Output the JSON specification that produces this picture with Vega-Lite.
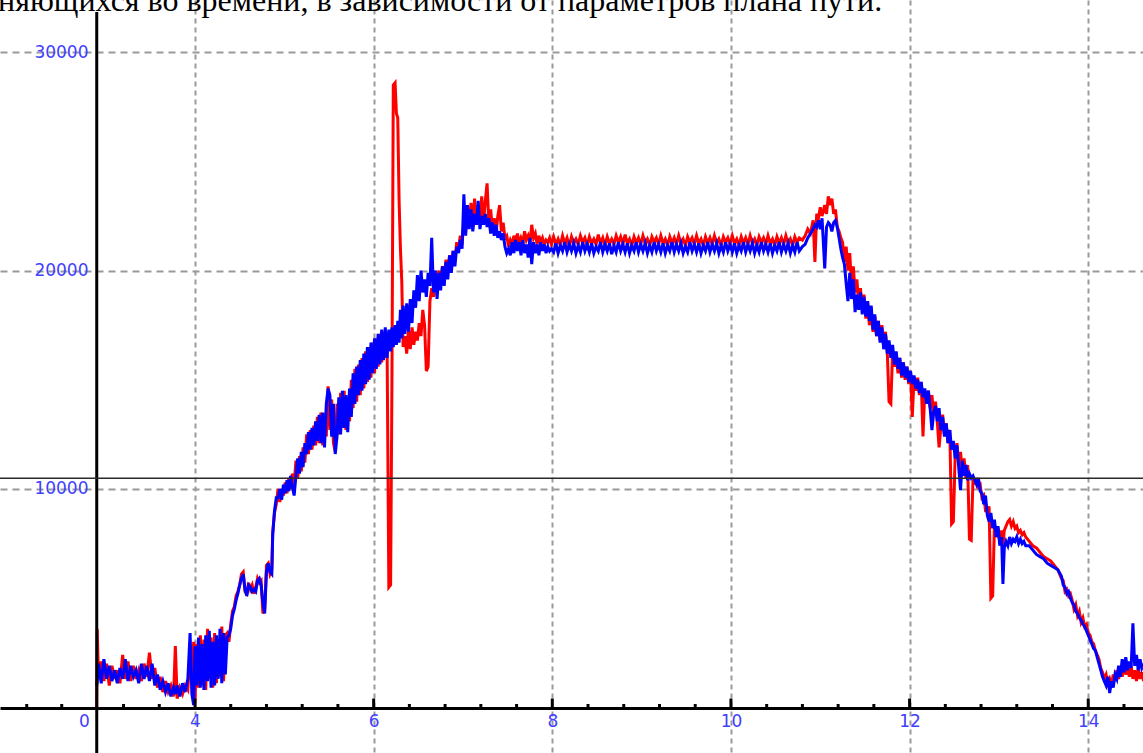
{
  "$schema": "https://vega.github.io/schema/vega-lite/v6.json",
  "width": 1143,
  "height": 753,
  "padding": 0,
  "autosize": {"type": "none"},
  "background": "white",
  "config": {"view": {"stroke": null}},
  "datasets": {
    "curves": [
      {"x":2.900,"r":0,"b":1000},{"x":2.905,"r":3600,"b":1200},{"x":2.92,"r":1300,"b":2000},{"x":2.95,"r":2100,"b":1100},{"x":2.98,"r":1200,"b":2200},{"x":3.01,"r":2000,"b":1300},{"x":3.04,"r":1000,"b":1900},{"x":3.07,"r":1900,"b":1200},{"x":3.10,"r":1300,"b":1700},{"x":3.13,"r":1700,"b":1100},{"x":3.16,"r":1100,"b":1800},{"x":3.19,"r":2400,"b":1300},{"x":3.22,"r":1300,"b":2200},{"x":3.25,"r":2100,"b":1200},{"x":3.28,"r":1200,"b":1900},{"x":3.31,"r":1900,"b":1400},{"x":3.34,"r":1300,"b":1700},{"x":3.37,"r":1700,"b":1100},{"x":3.40,"r":1200,"b":2000},{"x":3.43,"r":2000,"b":1300},{"x":3.46,"r":1400,"b":1900},{"x":3.49,"r":2500,"b":1200},{"x":3.52,"r":1300,"b":2000},{"x":3.55,"r":1800,"b":1000},{"x":3.58,"r":900,"b":1500},{"x":3.61,"r":1400,"b":800},{"x":3.64,"r":700,"b":1200},{"x":3.67,"r":1200,"b":700},{"x":3.70,"r":700,"b":1100},{"x":3.73,"r":1000,"b":500},{"x":3.76,"r":500,"b":900},{"x":3.78,"r":2800,"b":600},{"x":3.80,"r":400,"b":1000},{"x":3.83,"r":900,"b":500},{"x":3.86,"r":600,"b":1100},{"x":3.89,"r":1000,"b":700},{"x":3.92,"r":800,"b":1300},{"x":3.945,"r":2500,"b":3400},{"x":3.965,"r":1200,"b":600},{"x":3.985,"r":3000,"b":100},{"x":4.00,"r":200,"b":2800},
      {"x":4.02,"r":2900,"b":1000},{"x":4.04,"r":900,"b":3200},{"x":4.06,"r":3300,"b":900},{"x":4.08,"r":1000,"b":2900},{"x":4.10,"r":3100,"b":800},{"x":4.12,"r":800,"b":3300},{"x":4.14,"r":3600,"b":1200},{"x":4.16,"r":1300,"b":3500},{"x":4.18,"r":3200,"b":900},{"x":4.20,"r":900,"b":3000},{"x":4.22,"r":3400,"b":1000},{"x":4.24,"r":1100,"b":3300},{"x":4.26,"r":3000,"b":1300},{"x":4.28,"r":1400,"b":3600},{"x":4.30,"r":3700,"b":1100},{"x":4.32,"r":1200,"b":3400},{"x":4.34,"r":3300,"b":1500},{"x":4.36,"r":3400,"b":3200},
      {"x":4.38,"r":3000,"b":3300},{"x":4.40,"r":3800,"b":3600},{"x":4.42,"r":4400,"b":4200},{"x":4.44,"r":4600,"b":4500},{"x":4.46,"r":5100,"b":4900},{"x":4.48,"r":5300,"b":5200},{"x":4.50,"r":5600,"b":5600},{"x":4.52,"r":6100,"b":5900},{"x":4.54,"r":6200,"b":6100},{"x":4.56,"r":5300,"b":5400},{"x":4.58,"r":5200,"b":5100},{"x":4.60,"r":5700,"b":5600},{"x":4.62,"r":5400,"b":5500},{"x":4.64,"r":5600,"b":5300},{"x":4.66,"r":5200,"b":5400},{"x":4.68,"r":5500,"b":5300},{"x":4.70,"r":5900,"b":5800},{"x":4.72,"r":5700,"b":5900},{"x":4.74,"r":5800,"b":5600},{"x":4.76,"r":4300,"b":4800},{"x":4.78,"r":4500,"b":4300},{"x":4.80,"r":6500,"b":6200},{"x":4.82,"r":6600,"b":6600},{"x":4.84,"r":6100,"b":6200},{"x":4.86,"r":6300,"b":6100},
      {"x":4.87,"r":8000,"b":7900},{"x":4.89,"r":8900,"b":9000},{"x":4.91,"r":9300,"b":9600},{"x":4.93,"r":10000,"b":9600},{"x":4.95,"r":9400,"b":10000},{"x":4.97,"r":10000,"b":9500},{"x":4.99,"r":9700,"b":10200},{"x":5.01,"r":10300,"b":9800},{"x":5.03,"r":9800,"b":10400},{"x":5.05,"r":10500,"b":9900},{"x":5.07,"r":10000,"b":10600},{"x":5.09,"r":10700,"b":10100},{"x":5.11,"r":10200,"b":9700},{"x":5.13,"r":11300,"b":10600},{"x":5.15,"r":10500,"b":11400},{"x":5.17,"r":11500,"b":10700},{"x":5.19,"r":10800,"b":11700},{"x":5.21,"r":11900,"b":11000},{"x":5.23,"r":11200,"b":12100},{"x":5.25,"r":12500,"b":11600},{"x":5.27,"r":11600,"b":12600},{"x":5.29,"r":12700,"b":11800},{"x":5.31,"r":11800,"b":12800},{"x":5.33,"r":12900,"b":12000},{"x":5.35,"r":12000,"b":13100},{"x":5.37,"r":13300,"b":12200},{"x":5.39,"r":12100,"b":13400},{"x":5.41,"r":13500,"b":12100},{"x":5.43,"r":12000,"b":13500},{"x":5.45,"r":13400,"b":11900},{"x":5.47,"r":12400,"b":13900},{"x":5.49,"r":14700,"b":14600},{"x":5.51,"r":12700,"b":14300},{"x":5.53,"r":14100,"b":12400},{"x":5.55,"r":12100,"b":13900},{"x":5.57,"r":11700,"b":11600},{"x":5.59,"r":13900,"b":12400},{"x":5.61,"r":12500,"b":14200},{"x":5.63,"r":14400,"b":12500},{"x":5.65,"r":12800,"b":14500},{"x":5.67,"r":14500,"b":12800},{"x":5.69,"r":12700,"b":14300},{"x":5.71,"r":14200,"b":12600},{"x":5.73,"r":13100,"b":14600},{"x":5.75,"r":15000,"b":13300},{"x":5.77,"r":13700,"b":15300},{"x":5.79,"r":15500,"b":13900},{"x":5.81,"r":14000,"b":15600},{"x":5.83,"r":15700,"b":14300},{"x":5.85,"r":14300,"b":15900},{"x":5.87,"r":16000,"b":14500},{"x":5.89,"r":14600,"b":16200},{"x":5.91,"r":16300,"b":14800},{"x":5.93,"r":14900,"b":16500},{"x":5.95,"r":16500,"b":15000},{"x":5.97,"r":15100,"b":16700},{"x":5.99,"r":16700,"b":15300},{"x":6.01,"r":15300,"b":16900},{"x":6.03,"r":16900,"b":15500},{"x":6.05,"r":15600,"b":17100},{"x":6.07,"r":17100,"b":15700},{"x":6.09,"r":15800,"b":17300},{"x":6.11,"r":17200,"b":15900},{"x":6.13,"r":16000,"b":17400},{"x":6.15,"r":16900,"b":16000},
      {"x":6.17,"r":5500,"b":17300},{"x":6.19,"r":5600,"b":16300},{"x":6.205,"r":15000,"b":17400},{"x":6.22,"r":28500,"b":16500},{"x":6.24,"r":28600,"b":17500},{"x":6.255,"r":27200,"b":16600},{"x":6.27,"r":27000,"b":17700},{"x":6.285,"r":23200,"b":16700},{"x":6.30,"r":21000,"b":18200},{"x":6.315,"r":19500,"b":16900},{"x":6.33,"r":16500,"b":18400},{"x":6.35,"r":17000,"b":17100},
      {"x":6.37,"r":16200,"b":18500},{"x":6.39,"r":17300,"b":17200},{"x":6.41,"r":16400,"b":18700},{"x":6.43,"r":17400,"b":17600},{"x":6.45,"r":16600,"b":19100},{"x":6.47,"r":17200,"b":18300},{"x":6.49,"r":16800,"b":19800},{"x":6.51,"r":17600,"b":18600},{"x":6.53,"r":17000,"b":20000},{"x":6.55,"r":18200,"b":19000},{"x":6.57,"r":17500,"b":19600},{"x":6.59,"r":15400,"b":18800},{"x":6.61,"r":15600,"b":19900},{"x":6.63,"r":18600,"b":19300},{"x":6.65,"r":19200,"b":21500},{"x":6.67,"r":18800,"b":19000},{"x":6.69,"r":19600,"b":20000},{"x":6.71,"r":19100,"b":18700},{"x":6.73,"r":20000,"b":19900},{"x":6.75,"r":19400,"b":19100},{"x":6.77,"r":20200,"b":20200},{"x":6.79,"r":19700,"b":19300},{"x":6.81,"r":20500,"b":20400},{"x":6.83,"r":19900,"b":19600},{"x":6.85,"r":20700,"b":20700},{"x":6.87,"r":20300,"b":19900},{"x":6.89,"r":20900,"b":20900},{"x":6.91,"r":20500,"b":20200},{"x":6.93,"r":21300,"b":21100},{"x":6.95,"r":21000,"b":20800},{"x":6.97,"r":21600,"b":21400},{"x":6.99,"r":21200,"b":21000},{"x":7.01,"r":22300,"b":23500},{"x":7.03,"r":21800,"b":21600},{"x":7.05,"r":22900,"b":23000},{"x":7.07,"r":22200,"b":21900},{"x":7.09,"r":23100,"b":22800},{"x":7.11,"r":22000,"b":21800},{"x":7.13,"r":23300,"b":22600},{"x":7.15,"r":22100,"b":22100},{"x":7.17,"r":23000,"b":23200},{"x":7.19,"r":22300,"b":21900},{"x":7.21,"r":23400,"b":22500},{"x":7.23,"r":22200,"b":22100},{"x":7.25,"r":23200,"b":22600},{"x":7.27,"r":24000,"b":22000},{"x":7.29,"r":22100,"b":22400},{"x":7.31,"r":22800,"b":21700},{"x":7.33,"r":21900,"b":22200},{"x":7.35,"r":22400,"b":21600},{"x":7.37,"r":21700,"b":22100},{"x":7.39,"r":22500,"b":21500},{"x":7.41,"r":23000,"b":21800},{"x":7.43,"r":21800,"b":21400},{"x":7.45,"r":22200,"b":21700},{"x":7.47,"r":21500,"b":21100},{"x":7.49,"r":21600,"b":20800},{"x":7.51,"r":21100,"b":21000},{"x":7.53,"r":21400,"b":20700},{"x":7.55,"r":21200,"b":21300},{"x":7.57,"r":21600,"b":20800},{"x":7.59,"r":21300,"b":21400},{"x":7.61,"r":21700,"b":20900},{"x":7.63,"r":21200,"b":21300},{"x":7.65,"r":21500,"b":20700},{"x":7.67,"r":21300,"b":21400},{"x":7.69,"r":21800,"b":20800},{"x":7.71,"r":21400,"b":21200},{"x":7.73,"r":21600,"b":20600},{"x":7.75,"r":21300,"b":21500},{"x":7.77,"r":22100,"b":20300},{"x":7.79,"r":21500,"b":21300},{"x":7.81,"r":21700,"b":20800},{"x":7.83,"r":21200,"b":21200},{"x":7.85,"r":21600,"b":20700},{"x":7.87,"r":21300,"b":21300},{"x":7.89,"r":21500,"b":20900},{"x":7.91,"r":21200,"b":21200},{"x":7.93,"r":21400,"b":20800},{"x":7.95,"r":21300,"b":21100},{"x":7.97,"r":21500,"b":20900},{"x":7.99,"r":21200,"b":21000},
      {"x":8.015,"r":21550,"b":20850},{"x":8.04,"r":21200,"b":21250},{"x":8.065,"r":21450,"b":20800},{"x":8.09,"r":21150,"b":21150},{"x":8.115,"r":21600,"b":20900},{"x":8.14,"r":21250,"b":21300},{"x":8.165,"r":21500,"b":20850},{"x":8.19,"r":21100,"b":21200},{"x":8.215,"r":21550,"b":20900},{"x":8.24,"r":21250,"b":21250},{"x":8.265,"r":21450,"b":20800},{"x":8.29,"r":21200,"b":21150},{"x":8.315,"r":21600,"b":20850},{"x":8.34,"r":21300,"b":21300},{"x":8.365,"r":21500,"b":20900},{"x":8.39,"r":21150,"b":21200},{"x":8.415,"r":21550,"b":20850},{"x":8.44,"r":21250,"b":21250},{"x":8.465,"r":21450,"b":20800},{"x":8.49,"r":21200,"b":21100},{"x":8.515,"r":21650,"b":20900},{"x":8.54,"r":21250,"b":21300},{"x":8.565,"r":21500,"b":20850},{"x":8.59,"r":21150,"b":21200},{"x":8.615,"r":21550,"b":20900},{"x":8.64,"r":21250,"b":21250},{"x":8.665,"r":21450,"b":20750},{"x":8.69,"r":21200,"b":21150},{"x":8.715,"r":21600,"b":20850},{"x":8.74,"r":21300,"b":21300},{"x":8.765,"r":21550,"b":20900},{"x":8.79,"r":21200,"b":21200},{"x":8.815,"r":21650,"b":20850},{"x":8.84,"r":21250,"b":21250},{"x":8.865,"r":21450,"b":20800},{"x":8.89,"r":21150,"b":21150},{"x":8.915,"r":21550,"b":20900},{"x":8.94,"r":21250,"b":21300},{"x":8.965,"r":21500,"b":20850},{"x":8.99,"r":21200,"b":21200},{"x":9.015,"r":21600,"b":20900},{"x":9.04,"r":21250,"b":21250},{"x":9.065,"r":21450,"b":20800},{"x":9.09,"r":21150,"b":21150},{"x":9.115,"r":21550,"b":20850},{"x":9.14,"r":21300,"b":21300},{"x":9.165,"r":21500,"b":20900},{"x":9.19,"r":21200,"b":21200},{"x":9.215,"r":21600,"b":20850},{"x":9.24,"r":21250,"b":21250},{"x":9.265,"r":21450,"b":20800},{"x":9.29,"r":21150,"b":21150},{"x":9.315,"r":21550,"b":20900},{"x":9.34,"r":21250,"b":21300},{"x":9.365,"r":21500,"b":20850},{"x":9.39,"r":21200,"b":21200},{"x":9.415,"r":21600,"b":20900},{"x":9.44,"r":21250,"b":21250},{"x":9.465,"r":21450,"b":20800},{"x":9.49,"r":21150,"b":21100},{"x":9.515,"r":21550,"b":20850},{"x":9.54,"r":21300,"b":21300},{"x":9.565,"r":21500,"b":20900},{"x":9.59,"r":21200,"b":21200},{"x":9.615,"r":21600,"b":20850},{"x":9.64,"r":21250,"b":21250},{"x":9.665,"r":21450,"b":20800},{"x":9.69,"r":21150,"b":21150},{"x":9.715,"r":21550,"b":20900},{"x":9.74,"r":21250,"b":21300},{"x":9.765,"r":21500,"b":20850},{"x":9.79,"r":21200,"b":21200},{"x":9.815,"r":21600,"b":20900},{"x":9.84,"r":21250,"b":21250},{"x":9.865,"r":21450,"b":20800},{"x":9.89,"r":21150,"b":21150},{"x":9.915,"r":21550,"b":20850},{"x":9.94,"r":21300,"b":21300},{"x":9.965,"r":21500,"b":20900},{"x":9.99,"r":21200,"b":21200},{"x":10.015,"r":21600,"b":20850},{"x":10.04,"r":21250,"b":21250},{"x":10.065,"r":21450,"b":20800},{"x":10.09,"r":21150,"b":21150},{"x":10.115,"r":21550,"b":20900},{"x":10.14,"r":21250,"b":21300},{"x":10.165,"r":21500,"b":20850},{"x":10.19,"r":21200,"b":21200},{"x":10.215,"r":21600,"b":20900},{"x":10.24,"r":21250,"b":21250},{"x":10.265,"r":21450,"b":20800},{"x":10.29,"r":21150,"b":21150},{"x":10.315,"r":21550,"b":20850},{"x":10.34,"r":21300,"b":21300},{"x":10.365,"r":21500,"b":20900},{"x":10.39,"r":21200,"b":21200},{"x":10.415,"r":21600,"b":20850},{"x":10.44,"r":21250,"b":21250},{"x":10.465,"r":21450,"b":20800},{"x":10.49,"r":21150,"b":21150},{"x":10.515,"r":21550,"b":20900},{"x":10.54,"r":21250,"b":21300},{"x":10.565,"r":21500,"b":20850},{"x":10.59,"r":21200,"b":21200},{"x":10.615,"r":21600,"b":20900},{"x":10.64,"r":21250,"b":21250},{"x":10.665,"r":21450,"b":20800},{"x":10.69,"r":21150,"b":21150},{"x":10.715,"r":21550,"b":20850},{"x":10.74,"r":21300,"b":21300},{"x":10.765,"r":21500,"b":20900},
      {"x":10.80,"r":21400,"b":21100},{"x":10.83,"r":21600,"b":21200},{"x":10.86,"r":21900,"b":21500},{"x":10.89,"r":21700,"b":21700},{"x":10.92,"r":22300,"b":21900},{"x":10.94,"r":20400,"b":22100},{"x":10.96,"r":22600,"b":22000},{"x":10.98,"r":22400,"b":22300},{"x":11.00,"r":22900,"b":21900},{"x":11.02,"r":22500,"b":22400},{"x":11.05,"r":23000,"b":20100},{"x":11.07,"r":22600,"b":22000},{"x":11.09,"r":23400,"b":22200},{"x":11.11,"r":23000,"b":22100},{"x":11.13,"r":23300,"b":21800},{"x":11.15,"r":22600,"b":22200},{"x":11.17,"r":22800,"b":22300},{"x":11.19,"r":22000,"b":22000},{"x":11.21,"r":21800,"b":21500},{"x":11.23,"r":21500,"b":21000},{"x":11.25,"r":21300,"b":20600},{"x":11.27,"r":20400,"b":20300},{"x":11.29,"r":21100,"b":19400},{"x":11.31,"r":20000,"b":18600},{"x":11.33,"r":20800,"b":19900},{"x":11.35,"r":19400,"b":18700},{"x":11.37,"r":20200,"b":19600},{"x":11.39,"r":19000,"b":18100},{"x":11.41,"r":19600,"b":18900},{"x":11.43,"r":18500,"b":18200},{"x":11.45,"r":19200,"b":19000},{"x":11.47,"r":18200,"b":18000},{"x":11.49,"r":18900,"b":18800},{"x":11.51,"r":17800,"b":17900},{"x":11.53,"r":18600,"b":18600},{"x":11.55,"r":17500,"b":17700},{"x":11.57,"r":18200,"b":18400},{"x":11.59,"r":17200,"b":17300},{"x":11.61,"r":17900,"b":18000},{"x":11.63,"r":17000,"b":17000},{"x":11.65,"r":17700,"b":17700},{"x":11.67,"r":16800,"b":16700},{"x":11.69,"r":17500,"b":17400},{"x":11.71,"r":16500,"b":16400},{"x":11.73,"r":17200,"b":17100},{"x":11.75,"r":16300,"b":16200},{"x":11.77,"r":14000,"b":16800},{"x":11.79,"r":13900,"b":16000},{"x":11.81,"r":16300,"b":16600},{"x":11.83,"r":15600,"b":15700},{"x":11.85,"r":16200,"b":16300},{"x":11.87,"r":15300,"b":15500},{"x":11.89,"r":16000,"b":16000},{"x":11.91,"r":15100,"b":15200},{"x":11.93,"r":15800,"b":15800},{"x":11.95,"r":15000,"b":15100},{"x":11.97,"r":15600,"b":15600},{"x":11.99,"r":14800,"b":14900},{"x":12.01,"r":15400,"b":15400},{"x":12.03,"r":13300,"b":14800},{"x":12.05,"r":15100,"b":15200},{"x":12.07,"r":14500,"b":14600},{"x":12.09,"r":15100,"b":15000},{"x":12.11,"r":14300,"b":14400},{"x":12.13,"r":14900,"b":14900},{"x":12.15,"r":12400,"b":14200},{"x":12.17,"r":14500,"b":14600},{"x":12.19,"r":13900,"b":13900},{"x":12.21,"r":14500,"b":14500},{"x":12.23,"r":13700,"b":13700},{"x":12.25,"r":14300,"b":12700},{"x":12.27,"r":13400,"b":13500},{"x":12.29,"r":14000,"b":13800},{"x":12.31,"r":13100,"b":13100},{"x":12.33,"r":11900,"b":13700},{"x":12.35,"r":12800,"b":12700},{"x":12.37,"r":13400,"b":13300},{"x":12.39,"r":12500,"b":12400},{"x":12.41,"r":13000,"b":13000},{"x":12.43,"r":12100,"b":12100},{"x":12.45,"r":12700,"b":12700},{"x":12.47,"r":8400,"b":11800},{"x":12.49,"r":8500,"b":12200},{"x":12.51,"r":11500,"b":11400},{"x":12.53,"r":12100,"b":12000},{"x":12.55,"r":11100,"b":11000},{"x":12.57,"r":11700,"b":9950},{"x":12.59,"r":10800,"b":11300},{"x":12.61,"r":11400,"b":10600},{"x":12.63,"r":10500,"b":11100},{"x":12.65,"r":11100,"b":10400},{"x":12.67,"r":7700,"b":10700},{"x":12.69,"r":7650,"b":10500},{"x":12.71,"r":10500,"b":10600},{"x":12.73,"r":10300,"b":10400},{"x":12.75,"r":10400,"b":10200},{"x":12.77,"r":10100,"b":10500},{"x":12.79,"r":10200,"b":9900},{"x":12.81,"r":9600,"b":9800},{"x":12.83,"r":9700,"b":9300},{"x":12.85,"r":9000,"b":9700},{"x":12.87,"r":9000,"b":8800},{"x":12.89,"r":9200,"b":8500},{"x":12.91,"r":5000,"b":8900},{"x":12.93,"r":5100,"b":8200},{"x":12.95,"r":8400,"b":8600},{"x":12.97,"r":7800,"b":7800},{"x":12.99,"r":8200,"b":8300},{"x":13.01,"r":7500,"b":7400},{"x":13.03,"r":8100,"b":7800},{"x":13.045,"r":7400,"b":5650},{"x":13.06,"r":8100,"b":7300},{"x":13.08,"r":8300,"b":7600},{"x":13.10,"r":8500,"b":7400},{"x":13.12,"r":8600,"b":7800},{"x":13.14,"r":8300,"b":7500},{"x":13.16,"r":8500,"b":7700},{"x":13.18,"r":8200,"b":7600},{"x":13.20,"r":8300,"b":7800},{"x":13.22,"r":8000,"b":7500},{"x":13.24,"r":8100,"b":7700},{"x":13.26,"r":7900,"b":7500},{"x":13.28,"r":8000,"b":7600},{"x":13.30,"r":7800,"b":7400},{"x":13.34,"r":7600,"b":7400},{"x":13.38,"r":7400,"b":7200},{"x":13.42,"r":7300,"b":7000},{"x":13.46,"r":7100,"b":6900},{"x":13.50,"r":6900,"b":6800},{"x":13.54,"r":6800,"b":6600},{"x":13.58,"r":6700,"b":6500},{"x":13.62,"r":6500,"b":6400},{"x":13.66,"r":6300,"b":6300},{"x":13.70,"r":5900,"b":6000},{"x":13.72,"r":5800,"b":5600},{"x":13.74,"r":5300,"b":5500},{"x":13.76,"r":5400,"b":5200},{"x":13.78,"r":5100,"b":5300},{"x":13.80,"r":5200,"b":5000},{"x":13.82,"r":4900,"b":4800},{"x":13.84,"r":4500,"b":4700},{"x":13.86,"r":4700,"b":4400},{"x":13.88,"r":4200,"b":4300},{"x":13.90,"r":4400,"b":4100},{"x":13.92,"r":3900,"b":4000},{"x":13.94,"r":4100,"b":3800},{"x":13.96,"r":3700,"b":3700},{"x":13.98,"r":3800,"b":3500},{"x":14.00,"r":3400,"b":3300},{"x":14.02,"r":3300,"b":3100},{"x":14.04,"r":3000,"b":2900},{"x":14.06,"r":2900,"b":2700},{"x":14.08,"r":2600,"b":2600},{"x":14.10,"r":2400,"b":2300},{"x":14.12,"r":2200,"b":2000},{"x":14.14,"r":1800,"b":1700},{"x":14.16,"r":1600,"b":1400},{"x":14.18,"r":1300,"b":1200},{"x":14.20,"r":1500,"b":1000},{"x":14.22,"r":1100,"b":1400},{"x":14.24,"r":1300,"b":650},{"x":14.26,"r":1000,"b":1200},{"x":14.28,"r":1500,"b":900},{"x":14.30,"r":1200,"b":1500},{"x":14.32,"r":1700,"b":1300},{"x":14.34,"r":1300,"b":1900},{"x":14.36,"r":1800,"b":1400},{"x":14.38,"r":1400,"b":2200},{"x":14.40,"r":1900,"b":1600},{"x":14.42,"r":1500,"b":2300},{"x":14.44,"r":1800,"b":1700},{"x":14.46,"r":1400,"b":2100},{"x":14.48,"r":1900,"b":1800},{"x":14.50,"r":1300,"b":3850},{"x":14.52,"r":1700,"b":1900},{"x":14.54,"r":1200,"b":2400},{"x":14.56,"r":1800,"b":1700},{"x":14.58,"r":1300,"b":2200},{"x":14.60,"r":1600,"b":1800},{"x":14.62,"r":1200,"b":2000}
    ],
    "majorTicks": [{"x":4},{"x":6},{"x":8},{"x":10},{"x":12},{"x":14}],
    "minorTicks": [{"x":2.116},{"x":2.508},{"x":3.2},{"x":3.6},{"x":4.4},{"x":4.8},{"x":5.2},{"x":5.6},{"x":6.4},{"x":6.8},{"x":7.2},{"x":7.6},{"x":8.4},{"x":8.8},{"x":9.2},{"x":9.6},{"x":10.4},{"x":10.8},{"x":11.2},{"x":11.6},{"x":12.4},{"x":12.8},{"x":13.2},{"x":13.6},{"x":14.4}],
    "one": [{"k": 1}]
  },
  "layer": [
    {
      "data": {"name": "curves"},
      "mark": {"type": "line", "color": "#ff0000", "strokeWidth": 3, "clip": true},
      "encoding": {
        "x": {
          "field": "x", "type": "quantitative",
          "scale": {"domain": [1.817, 14.613], "nice": false, "zero": false},
          "axis": {
            "title": null, "orient": "bottom", "offset": -45, "format": "d",
            "values": [4, 6, 8, 10, 12, 14],
            "grid": true, "gridColor": "#9a9a9a", "gridDash": [5, 4], "gridWidth": 2,
            "domain": true, "domainColor": "#000000", "domainWidth": 3,
            "ticks": false, "tickSize": 0, "labelPadding": 5,
            "labelColor": "#4040ff", "labelFont": "DejaVu Sans", "labelFontSize": 17,
            "labelFlush": false, "labelOverlap": false
          }
        },
        "y": {
          "field": "r", "type": "quantitative",
          "scale": {"domain": [-2093, 32395], "nice": false, "zero": false},
          "axis": {
            "title": null, "orient": "left", "offset": -97, "format": "d",
            "values": [10000, 20000, 30000],
            "grid": true, "gridColor": "#9a9a9a", "gridDash": [7, 5], "gridWidth": 2,
            "domain": false,
            "ticks": false, "tickSize": 0, "labelPadding": 9,
            "labelColor": "#4040ff", "labelFont": "DejaVu Sans", "labelFontSize": 17,
            "labelFlush": false, "labelOverlap": false
          }
        }
      }
    },
    {
      "data": {"name": "curves"},
      "mark": {"type": "line", "color": "#0000ff", "strokeWidth": 3, "clip": true},
      "encoding": {
        "x": {"field": "x", "type": "quantitative"},
        "y": {"field": "b", "type": "quantitative"}
      }
    },
    {
      "data": {"name": "one"},
      "mark": {"type": "rule", "color": "#000000", "strokeWidth": 3},
      "encoding": {"x": {"datum": 2.9}, "y": {"datum": -2093}, "y2": {"datum": 31845}}
    },
    {
      "data": {"name": "majorTicks"},
      "mark": {"type": "rule", "color": "#000000", "strokeWidth": 3},
      "encoding": {
        "x": {"field": "x", "type": "quantitative"},
        "y": {"datum": 0},
        "y2": {"datum": 400}
      }
    },
    {
      "data": {"name": "minorTicks"},
      "mark": {"type": "rule", "color": "#000000", "strokeWidth": 3},
      "encoding": {
        "x": {"field": "x", "type": "quantitative"},
        "y": {"datum": 0},
        "y2": {"datum": 150}
      }
    },
    {
      "data": {"name": "one"},
      "mark": {"type": "rule", "color": "#2a2a2a", "strokeWidth": 1.5},
      "encoding": {"y": {"datum": 10490}}
    },
    {
      "data": {"name": "one"},
      "mark": {"type": "text", "text": "0", "align": "right", "baseline": "middle", "dx": -7, "dy": 15, "color": "#4040ff", "font": "DejaVu Sans", "fontSize": 17},
      "encoding": {"x": {"datum": 2.9}, "y": {"datum": 0}}
    },
    {
      "data": {"name": "one"},
      "mark": {"type": "text", "text": "няющихся во времени, в зависимости от параметров плана пути.", "align": "left", "baseline": "alphabetic", "color": "#000000", "font": "Liberation Serif", "fontSize": 32},
      "encoding": {"x": {"datum": 1.795}, "y": {"datum": 31890}}
    }
  ]
}
